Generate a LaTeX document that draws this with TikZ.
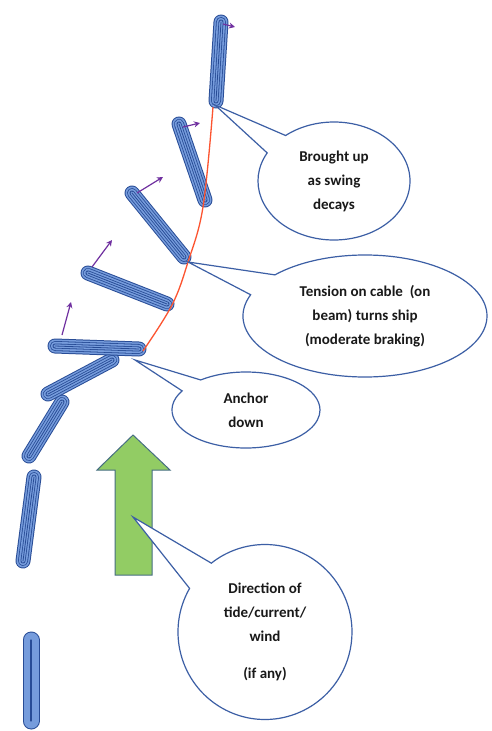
\documentclass[tikz,border=0pt]{standalone}
\usepackage{fontspec}
\setmainfont{Carlito}
\usetikzlibrary{shapes.callouts,arrows.meta,calc}
\definecolor{shipdark}{RGB}{40,76,150}
\definecolor{shiplight}{RGB}{118,156,220}
\definecolor{bubble}{RGB}{60,95,165}
\definecolor{cablered}{RGB}{252,84,48}
\definecolor{vecpurple}{RGB}{112,48,160}
\definecolor{arrowgreen}{RGB}{146,204,100}
\definecolor{arrowedge}{RGB}{70,110,130}
\tikzset{
  bubblebox/.style={ellipse callout, draw=bubble, line width=1.2pt, fill=white,
    callout pointer arc=22, inner sep=0pt, align=center,
    font=\bfseries\fontsize{15}{24}\selectfont, text=black!90},
  headvec/.style={vecpurple, line width=1.2pt, -{Stealth[length=6pt,width=6pt]}},
  cable/.style={cablered, line width=1.3pt},
  hullring/.style={line cap=round},
}
\newcommand\drawhull[2]{%
  \draw[hullring,shipdark,line width=15pt] #1 -- #2;
  \draw[hullring,shiplight,line width=13pt] #1 -- #2;
  \draw[hullring,shipdark,line width=10pt] #1 -- #2;
  \draw[hullring,shiplight,line width=8.4pt] #1 -- #2;
  \draw[hullring,shipdark,line width=5pt] #1 -- #2;
  \draw[hullring,shiplight,line width=3.4pt] #1 -- #2;
  \draw[hullring,shipdark,line width=0.8pt] #1 -- #2;}
\begin{document}
\begin{tikzpicture}[x=1pt,y=-1pt]
\useasboundingbox (0,0) rectangle (491,731);
\fill[white] (0,0) rectangle (491,731);

% ship ends
\coordinate (s1a) at (31,640); \coordinate (s1b) at (31,721);
\coordinate (s2a) at (34,477); \coordinate (s2b) at (23,561);
\coordinate (s3a) at (29,456); \coordinate (s3b) at (62,402);
\coordinate (s4a) at (48,394); \coordinate (s4b) at (112,360);
\coordinate (s5a) at (55,346); \coordinate (s5b) at (139,349);
\coordinate (s6a) at (88,273); \coordinate (s6b) at (167,304);
\coordinate (s7a) at (132,193); \coordinate (s7b) at (184,257);
\coordinate (s8a) at (179,124); \coordinate (s8b) at (205,200);
\coordinate (s9a) at (221,22); \coordinate (s9b) at (216,101);

% bottom ship
\draw[hullring,shipdark,line width=17pt] (s1a) -- (s1b);
\draw[hullring,shiplight,line width=15pt] (s1a) -- (s1b);
\draw[hullring,shipdark,line width=1.2pt] (s1a) -- (s1b);

\drawhull{(s2a)}{(s2b)}
\drawhull{(s3a)}{(s3b)}
\drawhull{(s4a)}{(s4b)}
\drawhull{(s5a)}{(s5b)}
\drawhull{(s6a)}{(s6b)}
\drawhull{(s7a)}{(s7b)}
\drawhull{(s8a)}{(s8b)}
\drawhull{(s9a)}{(s9b)}

% heading vectors
\coordinate (v5a) at (62,335); \coordinate (v5b) at (71,302);
\coordinate (v6a) at (92,267); \coordinate (v6b) at (112,240);
\coordinate (v7a) at (137,193); \coordinate (v7b) at (163,177);
\coordinate (v8a) at (183,127); \coordinate (v8b) at (200,123);
\coordinate (v9a) at (223,24); \coordinate (v9b) at (235,27);
\draw[headvec] (v5a) -- (v5b);
\draw[headvec] (v6a) -- (v6b);
\draw[headvec] (v7a) -- (v7b);
\draw[headvec] (v8a) -- (v8b);
\draw[headvec] (v9a) -- (v9b);

% anchor cable
\coordinate (k1) at (143,351);
\coordinate (k2) at (172,305);
\coordinate (k3) at (188,262);
\coordinate (k4) at (203,207);
\coordinate (k5) at (213,107);
\draw[cable] plot[smooth, tension=0.6] coordinates {(k1) (k2) (k3) (k4) (k5)};

% green arrow
\draw[draw=arrowedge, fill=arrowgreen, line width=1pt, line join=miter]
  (115,575) -- (115,470) -- (97,470) -- (133,435) -- (170,470) -- (152,470) -- (152,575) -- cycle;

% callout tips
\coordinate (t1) at (215,105);
\coordinate (t2) at (188,262);
\coordinate (t3) at (135,360);
\coordinate (t4) at (133,517);

\node[bubblebox, minimum width=152pt, minimum height=118pt, callout absolute pointer={(t1)}]
  (b1) at (334,181) {Brought up\\as swing\\decays};
\node[bubblebox, minimum width=244pt, minimum height=122pt, callout absolute pointer={(t2)}]
  (b2) at (365,316) {Tension on cable\ \ (on\\beam) turns ship\\(moderate braking)};
\node[bubblebox, minimum width=148pt, minimum height=76pt, callout absolute pointer={(t3)}]
  (b3) at (246,410) {Anchor\\down};
\node[bubblebox, minimum width=174pt, minimum height=175pt, callout absolute pointer={(t4)}]
  (b4) at (265,632) {Direction of\\tide/current/\\wind\\[13pt](if any)};
\end{tikzpicture}
\end{document}
